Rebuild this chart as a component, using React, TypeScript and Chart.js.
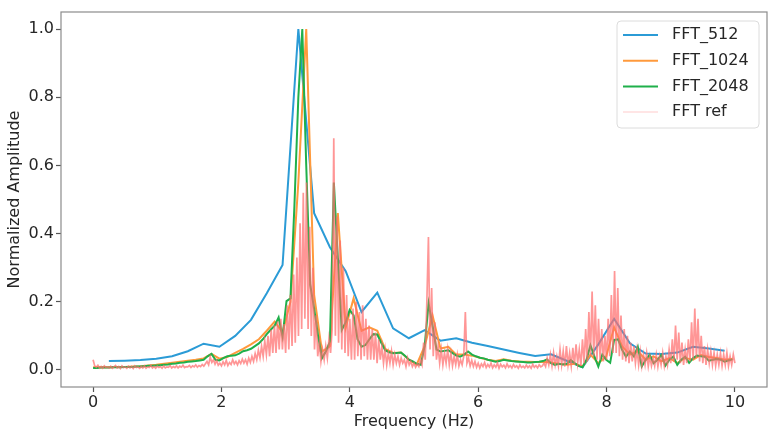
import React, { useEffect, useRef } from 'react';
import { Chart, registerables } from 'chart.js';

Chart.register(...registerables);

const FONT = '"DejaVu Sans", "Liberation Sans", sans-serif';

const X_TICKS = [0, 2, 4, 6, 8, 10];
const Y_TICKS = [0, 0.2, 0.4, 0.6, 0.8, 1.0];

const LABELS = ['FFT_512', 'FFT_1024', 'FFT_2048', 'FFT ref'];

// frequency resolution of each spectrum (Hz per bin)
const DF_512 = 0.246;
const DF_1024 = 0.123;
const DF_2048 = 0.0615;
const DF_REF = 0.025;

// FFT_512 starts at first bin (DF_512)
const FFT_512 = [
  0.026, 0.027, 0.029, 0.033, 0.040, 0.055, 0.077, 0.068, 0.100, 0.147,
  0.225, 0.308, 1.000, 0.460, 0.360, 0.290, 0.170, 0.227, 0.122, 0.093,
  0.117, 0.086, 0.093, 0.080, 0.070, 0.060, 0.050, 0.041, 0.046, 0.027,
  0.008, 0.075, 0.150, 0.078, 0.048, 0.047, 0.051, 0.068, 0.063, 0.056,
];

const FFT_1024 = [
  0.008, 0.008, 0.008, 0.009, 0.009, 0.010, 0.011, 0.013, 0.015, 0.018,
  0.021, 0.024, 0.027, 0.030, 0.034, 0.047, 0.033, 0.038, 0.050, 0.062,
  0.075, 0.090, 0.115, 0.142, 0.110, 0.200, 0.550, 1.000, 0.220, 0.054,
  0.070, 0.460, 0.125, 0.210, 0.115, 0.125, 0.115, 0.062, 0.050, 0.051,
  0.030, 0.016, 0.070, 0.160, 0.063, 0.068, 0.045, 0.045, 0.042, 0.036,
  0.030, 0.026, 0.031, 0.027, 0.025, 0.024, 0.023, 0.024, 0.022, 0.018,
  0.015, 0.018, 0.010, 0.045, 0.020, 0.040, 0.125, 0.070, 0.045, 0.055,
  0.030, 0.040, 0.025, 0.035, 0.020, 0.035, 0.030, 0.044, 0.038, 0.035,
  0.030, 0.032,
];

const FFT_2048 = [
  0.006, 0.006, 0.007, 0.007, 0.007, 0.008, 0.008, 0.008, 0.009, 0.009,
  0.009, 0.010, 0.010, 0.011, 0.012, 0.012, 0.013, 0.014, 0.015, 0.016,
  0.018, 0.019, 0.021, 0.022, 0.024, 0.025, 0.026, 0.028, 0.030, 0.040,
  0.047, 0.030, 0.028, 0.035, 0.040, 0.042, 0.043, 0.048, 0.055, 0.058,
  0.062, 0.070, 0.078, 0.090, 0.105, 0.118, 0.130, 0.154, 0.098, 0.202,
  0.210, 0.480, 0.800, 1.000, 0.600, 0.250, 0.180, 0.100, 0.035, 0.055,
  0.083, 0.550, 0.330, 0.117, 0.140, 0.176, 0.160, 0.090, 0.068, 0.073,
  0.090, 0.105, 0.104, 0.080, 0.058, 0.052, 0.049, 0.050, 0.051, 0.042,
  0.030, 0.025, 0.018, 0.015, 0.070, 0.195, 0.130, 0.060, 0.054, 0.056,
  0.058, 0.050, 0.042, 0.039, 0.045, 0.054, 0.045, 0.040, 0.036, 0.034,
  0.030, 0.027, 0.024, 0.026, 0.030, 0.028, 0.026, 0.025, 0.024, 0.023,
  0.022, 0.022, 0.023, 0.024, 0.026, 0.031, 0.020, 0.015, 0.018, 0.016,
  0.018, 0.029, 0.020, 0.012, 0.008, 0.030, 0.072, 0.040, 0.010, 0.045,
  0.030, 0.021, 0.088, 0.090, 0.060, 0.039, 0.054, 0.040, 0.068, 0.010,
  0.030, 0.044, 0.020, 0.030, 0.044, 0.013, 0.030, 0.039, 0.015, 0.030,
  0.039, 0.021, 0.035, 0.042, 0.040, 0.039, 0.027, 0.030, 0.032, 0.030,
  0.024, 0.028, 0.031,
];

const FFT_REF = [
  0.030, 0.012, 0.008, 0.014, 0.006, 0.010, 0.005, 0.012, 0.007, 0.009,
  0.006, 0.011, 0.005, 0.009, 0.013, 0.006, 0.010, 0.004, 0.012, 0.007,
  0.009, 0.005, 0.011, 0.006, 0.010, 0.004, 0.012, 0.007, 0.009, 0.005,
  0.010, 0.006, 0.012, 0.005, 0.009, 0.007, 0.013, 0.006, 0.010, 0.005,
  0.011, 0.007, 0.010, 0.005, 0.012, 0.006, 0.009, 0.008, 0.013, 0.006,
  0.010, 0.007, 0.012, 0.006, 0.011, 0.008, 0.014, 0.007, 0.010, 0.009,
  0.013, 0.007, 0.012, 0.009, 0.015, 0.008, 0.013, 0.010, 0.016, 0.011,
  0.018, 0.025, 0.015, 0.038, 0.022, 0.030, 0.017, 0.028, 0.014, 0.020,
  0.012, 0.024, 0.015, 0.028, 0.013, 0.022, 0.016, 0.030, 0.018, 0.025,
  0.015, 0.027, 0.019, 0.032, 0.020, 0.030, 0.017, 0.035, 0.022, 0.040,
  0.025, 0.048, 0.030, 0.058, 0.035, 0.070, 0.040, 0.085, 0.045, 0.100,
  0.040, 0.118, 0.050, 0.130, 0.050, 0.142, 0.060, 0.150, 0.060, 0.135,
  0.050, 0.190, 0.060, 0.220, 0.070, 0.280, 0.080, 0.330, 0.100, 0.430,
  0.120, 0.520, 0.150, 0.550, 0.120, 0.420, 0.100, 0.300, 0.060, 0.160,
  0.040, 0.080, 0.025, 0.060, 0.030, 0.070, 0.035, 0.090, 0.050, 0.120,
  0.680, 0.100, 0.450, 0.080, 0.380, 0.060, 0.300, 0.050, 0.220, 0.040,
  0.150, 0.030, 0.180, 0.030, 0.200, 0.040, 0.170, 0.030, 0.190, 0.040,
  0.150, 0.030, 0.130, 0.030, 0.120, 0.030, 0.110, 0.020, 0.090, 0.030,
  0.070, 0.020, 0.060, 0.015, 0.050, 0.020, 0.055, 0.015, 0.045, 0.020,
  0.040, 0.015, 0.035, 0.020, 0.030, 0.010, 0.035, 0.015, 0.025, 0.010,
  0.020, 0.008, 0.018, 0.010, 0.030, 0.015, 0.080, 0.030, 0.200, 0.390,
  0.060, 0.240, 0.040, 0.140, 0.030, 0.070, 0.020, 0.060, 0.015, 0.050,
  0.020, 0.060, 0.015, 0.050, 0.012, 0.040, 0.015, 0.045, 0.012, 0.030,
  0.015, 0.040, 0.170, 0.020, 0.035, 0.012, 0.028, 0.010, 0.025, 0.008,
  0.020, 0.006, 0.018, 0.010, 0.022, 0.007, 0.016, 0.009, 0.020, 0.006,
  0.015, 0.008, 0.020, 0.005, 0.017, 0.009, 0.014, 0.006, 0.018, 0.008,
  0.013, 0.006, 0.016, 0.008, 0.012, 0.005, 0.015, 0.007, 0.011, 0.006,
  0.014, 0.007, 0.012, 0.005, 0.016, 0.008, 0.013, 0.006, 0.015, 0.009,
  0.012, 0.020, 0.010, 0.035, 0.015, 0.045, 0.012, 0.050, 0.015, 0.040,
  0.012, 0.060, 0.015, 0.055, 0.010, 0.070, 0.015, 0.050, 0.012, 0.065,
  0.015, 0.075, 0.020, 0.060, 0.012, 0.090, 0.020, 0.120, 0.025, 0.170,
  0.040, 0.230, 0.040, 0.190, 0.030, 0.150, 0.030, 0.120, 0.025, 0.100,
  0.030, 0.150, 0.040, 0.220, 0.050, 0.290, 0.050, 0.240, 0.040, 0.160,
  0.030, 0.120, 0.025, 0.100, 0.020, 0.080, 0.025, 0.070, 0.020, 0.060,
  0.015, 0.055, 0.012, 0.045, 0.015, 0.050, 0.010, 0.040, 0.012, 0.035,
  0.012, 0.045, 0.010, 0.040, 0.015, 0.050, 0.012, 0.040, 0.015, 0.060,
  0.020, 0.090, 0.025, 0.130, 0.030, 0.110, 0.020, 0.080, 0.015, 0.060,
  0.020, 0.090, 0.025, 0.140, 0.030, 0.180, 0.035, 0.150, 0.025, 0.100,
  0.020, 0.070, 0.015, 0.060, 0.020, 0.055, 0.015, 0.050, 0.012, 0.045,
  0.015, 0.050, 0.012, 0.045, 0.015, 0.050, 0.012, 0.040, 0.015, 0.045,
  0.020,
];

const COLORS = {
  c512: '#2b9bd6',
  c1024: '#ff9a3c',
  c2048: '#1fb04b',
  ref: 'rgba(255, 110, 110, 0.72)',
  refLegend: 'rgba(255, 150, 150, 0.25)',
};

const toPoints = (vals: number[], df: number, first: number) =>
  vals.map((v, i) => ({ x: (i + first) * df, y: v }));

const frame = {
  id: 'mplFrame',
  afterDatasetsDraw(chart: any) {
    const { ctx, chartArea: a } = chart;
    ctx.save();
    ctx.strokeStyle = '#8c8c8c';
    ctx.lineWidth = 1.2;
    ctx.strokeRect(a.left, a.top, a.right - a.left, a.bottom - a.top);
    ctx.restore();
  },
};

const legend = {
  id: 'mplLegend',
  afterDraw(chart: any) {
    const { ctx, chartArea: a } = chart;
    const w = 142;
    const h = 107;
    const x = a.right - 8 - w;
    const y = a.top + 9;
    ctx.save();
    ctx.beginPath();
    ctx.roundRect(x, y, w, h, 4);
    ctx.fillStyle = 'rgba(255,255,255,0.85)';
    ctx.fill();
    ctx.strokeStyle = '#dcdcdc';
    ctx.lineWidth = 1;
    ctx.stroke();
    const items = [
      { label: LABELS[0], color: COLORS.c512 },
      { label: LABELS[1], color: COLORS.c1024 },
      { label: LABELS[2], color: COLORS.c2048 },
      { label: LABELS[3], color: COLORS.refLegend },
    ];
    ctx.font = `16px ${FONT}`;
    ctx.textBaseline = 'middle';
    ctx.textAlign = 'left';
    items.forEach((it, i) => {
      const cy = y + 14 + i * 25.7;
      ctx.beginPath();
      ctx.strokeStyle = it.color;
      ctx.lineWidth = 2;
      ctx.moveTo(x + 6, cy);
      ctx.lineTo(x + 41, cy);
      ctx.stroke();
      ctx.fillStyle = '#262626';
      ctx.fillText(it.label, x + 55, cy);
    });
    ctx.restore();
  },
};

export default function App() {
  const ref = useRef<HTMLCanvasElement | null>(null);

  useEffect(() => {
    if (!ref.current) return;
    const tickFont = { family: FONT, size: 16 };
    const chart = new Chart(ref.current, {
      type: 'line',
      data: {
        datasets: [
          {
            label: LABELS[0],
            data: toPoints(FFT_512, DF_512, 1),
            borderColor: COLORS.c512,
            borderWidth: 2,
            order: 4,
          },
          {
            label: LABELS[1],
            data: toPoints(FFT_1024, DF_1024, 0),
            borderColor: COLORS.c1024,
            borderWidth: 2,
            order: 3,
          },
          {
            label: LABELS[2],
            data: toPoints(FFT_2048, DF_2048, 0),
            borderColor: COLORS.c2048,
            borderWidth: 2,
            order: 2,
          },
          {
            label: LABELS[3],
            data: toPoints(FFT_REF, DF_REF, 0),
            borderColor: COLORS.ref,
            borderWidth: 1.7,
            order: 1,
          },
        ],
      },
      options: {
        animation: false,
        responsive: false,
        maintainAspectRatio: false,
        devicePixelRatio: 1,
        layout: { padding: { left: 0, right: 8, top: 12, bottom: 0 } },
        elements: { point: { radius: 0 }, line: { tension: 0, fill: false } },
        plugins: { legend: { display: false }, tooltip: { enabled: false } },
        scales: {
          x: {
            type: 'linear',
            min: -0.5,
            max: 10.5,
            afterBuildTicks: (s: any) => {
              s.ticks = X_TICKS.map((v) => ({ value: v }));
            },
            afterFit: (s: any) => {
              s.height = 51;
            },
            grid: {
              display: true,
              drawOnChartArea: false,
              drawTicks: true,
              tickLength: 5,
              tickWidth: 1.2,
              tickColor: '#555555',
            },
            border: { display: false },
            ticks: {
              autoSkip: false,
              maxRotation: 0,
              padding: 1,
              color: '#262626',
              font: tickFont,
              callback: (v: any) => String(v),
            },
            title: {
              display: true,
              text: 'Frequency (Hz)',
              color: '#262626',
              font: { family: FONT, size: 16 },
              padding: { top: 7, bottom: 7 },
            },
          },
          y: {
            type: 'linear',
            min: -0.05,
            max: 1.05,
            afterBuildTicks: (s: any) => {
              s.ticks = Y_TICKS.map((v) => ({ value: v }));
            },
            afterFit: (s: any) => {
              s.width = 61;
            },
            grid: {
              display: true,
              drawOnChartArea: false,
              drawTicks: true,
              tickLength: 5,
              tickWidth: 1.2,
              tickColor: '#555555',
            },
            border: { display: false },
            ticks: {
              autoSkip: false,
              padding: 2,
              color: '#262626',
              font: tickFont,
              callback: (v: any) => Number(v).toFixed(1),
            },
            title: {
              display: true,
              text: 'Normalized Amplitude',
              color: '#262626',
              font: { family: FONT, size: 16 },
              padding: { top: 5, bottom: 5 },
            },
          },
        },
      },
      plugins: [frame, legend],
    } as any);
    return () => chart.destroy();
  }, []);

  return (
    <div style={{ position: 'fixed', left: 0, top: 0, width: 775, height: 438, background: '#fff' }}>
      <canvas ref={ref} width={775} height={438} style={{ width: 775, height: 438, display: 'block' }} />
    </div>
  );
}
